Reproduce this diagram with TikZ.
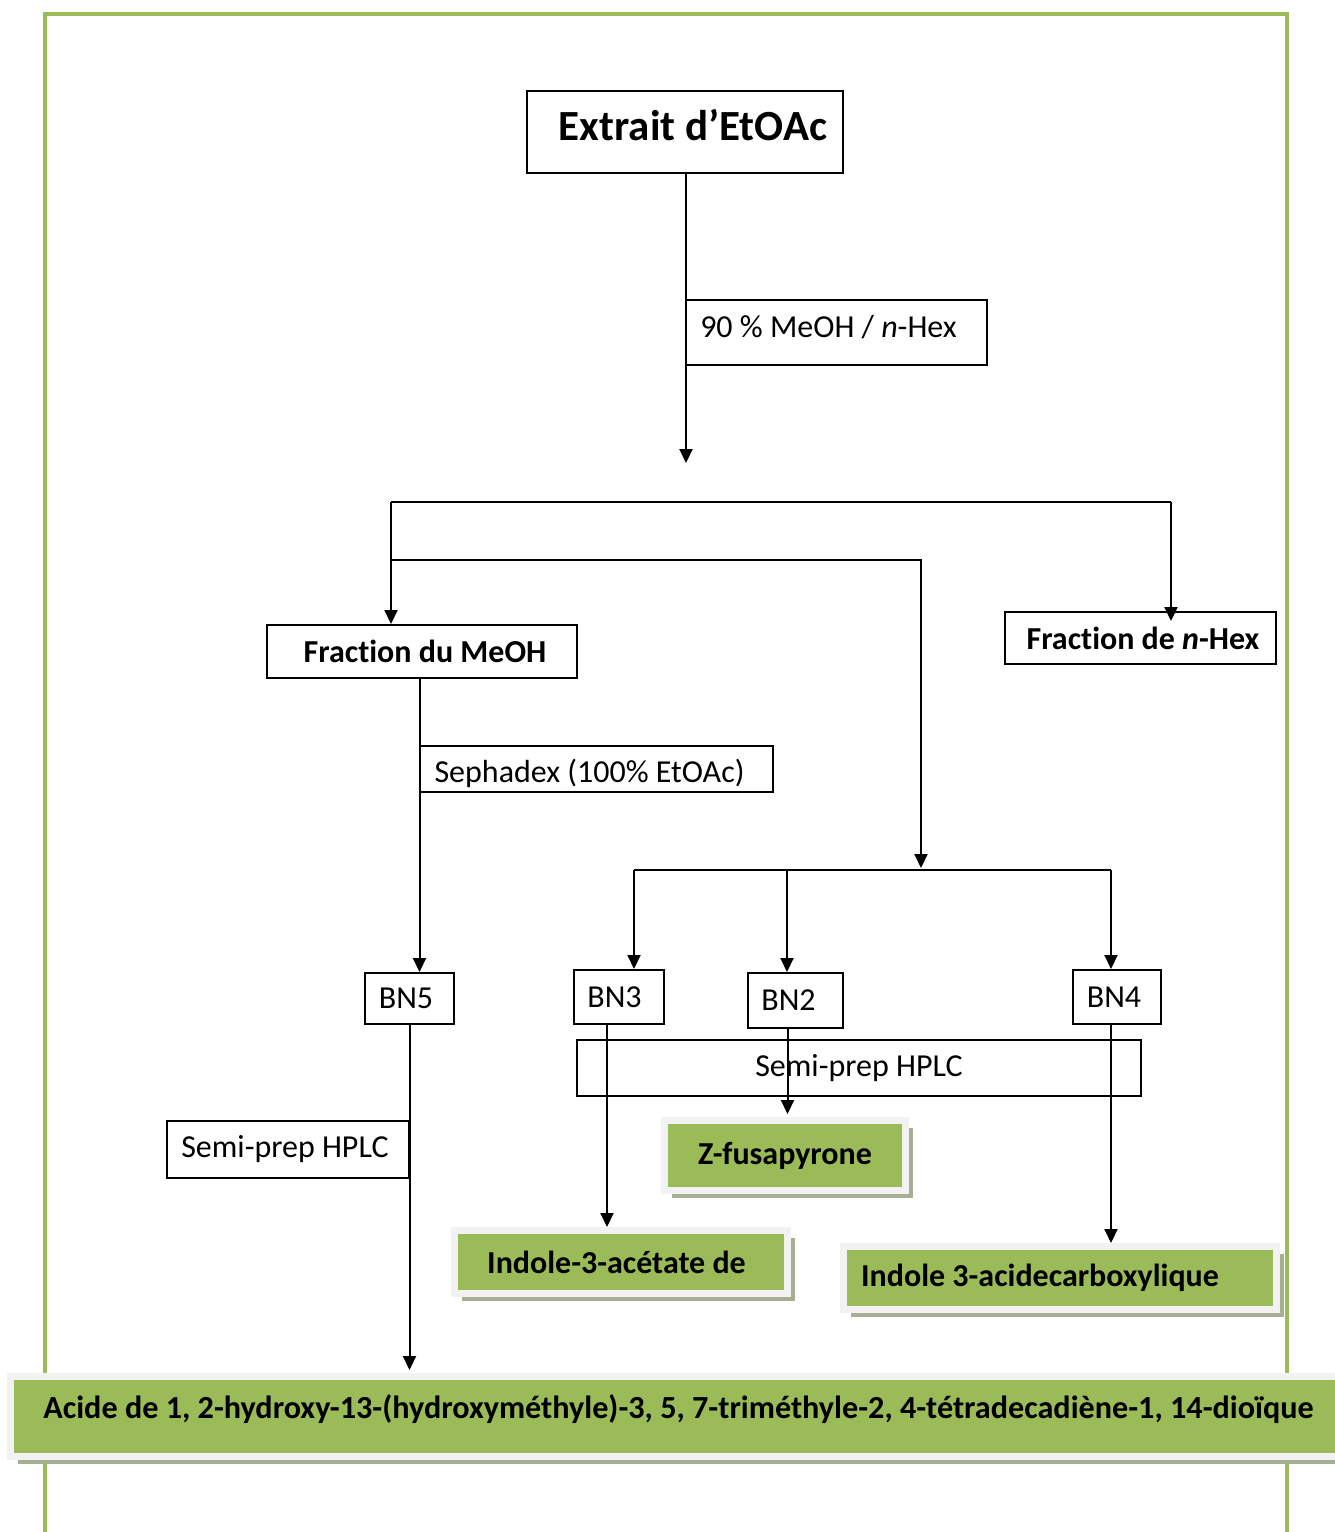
\documentclass[tikz,border=0pt]{standalone}
\usepackage{fontspec}
\setmainfont{Carlito}[Ligatures=NoCommon]
\usetikzlibrary{arrows.meta,shadows}
\definecolor{leafgreen}{HTML}{9BBB59}
\definecolor{framegrey}{HTML}{F2F2F2}
\definecolor{shadegreen}{RGB}{165,175,145}
\tikzset{
  box/.style={draw, line width=2pt, inner sep=0pt, font=\fontsize{32}{38}\selectfont},
  boldbox/.style={box, font=\fontsize{32}{38}\selectfont\bfseries},
  result/.style={fill=leafgreen, draw=framegrey, line width=7pt, inner sep=0pt,
    font=\fontsize{32}{38}\selectfont\bfseries,
    general shadow={fill=shadegreen, shadow xshift=7.5pt, shadow yshift=-7.5pt}},
  link/.style={line width=2pt},
  arrow/.style={link, -{Triangle[length=14pt,width=13pt]}}
}
\begin{document}
\begin{tikzpicture}[x=1pt,y=-1pt]
  \useasboundingbox (0,0) rectangle (1335,1532);
  \draw[leafgreen, line width=4pt] (45,1532) -- (45,14) -- (1287,14) -- (1287,1532);

  \node[box, minimum width=316pt, minimum height=82pt, text height=30pt, text depth=13pt, font=\fontsize{43}{50}\selectfont\bfseries] (extrait) at (685,132) {\hspace*{16pt}Extrait d’EtOAc};
  \node[box, minimum width=301pt, minimum height=65pt, text height=23pt, text depth=14pt] (solvent) at (836.5,332.5) {90 \% MeOH / \textit{n}-Hex\hspace*{16pt}};
  \node[boldbox, minimum width=310pt, minimum height=53pt] (meoh) at (422,651.5) {\hspace*{6pt}Fraction du MeOH};
  \node[boldbox, minimum width=271pt, minimum height=52pt] (hex) at (1140.5,638) {\hspace*{5pt}Fraction de \textit{n}-Hex};
  \node[box, minimum width=353pt, minimum height=46pt, text height=34pt, text depth=7pt] (sephadex) at (596.5,769) {Sephadex (100\% EtOAc)\hspace*{14pt}};
  \node[box, minimum width=89pt, minimum height=51pt] (bn5) at (409.5,998.5) {BN5\hspace*{7pt}};
  \node[box, minimum width=90pt, minimum height=54pt] (bn3) at (619,997) {BN3\hspace*{9pt}};
  \node[box, minimum width=95pt, minimum height=55pt] (bn2) at (795.5,1000.5) {BN2\hspace*{14pt}};
  \node[box, minimum width=88pt, minimum height=54pt] (bn4) at (1117,997) {BN4\hspace*{6pt}};
  \node[box, minimum width=564pt, minimum height=56pt] (hplcR) at (859,1068) {Semi-prep HPLC};
  \node[box, minimum width=242pt, minimum height=57pt] (hplcL) at (288,1149.5) {Semi-prep HPLC\hspace*{6pt}};

  \node[result, minimum width=241pt, minimum height=70pt] (zfus) at (785,1155.5) {Z-fusapyrone};
  \node[result, minimum width=333pt, minimum height=63pt] (indA) at (621,1262) {Indole-3-acétate de\hspace*{9pt}};
  \node[result, minimum width=433pt, minimum height=63pt] (indB) at (1060,1278) {Indole 3-acidecarboxylique\hspace*{40pt}};
  \node[result, minimum width=1336pt, minimum height=80pt, text depth=20pt, font=\fontsize{32.2}{38}\selectfont\bfseries] (acide) at (678.5,1416.5) {Acide de 1, 2-hydroxy-13-(hydroxyméthyle)-3, 5, 7-triméthyle-2, 4-tétradecadiène-1, 14-dioïque};

  \coordinate (split) at (686,463);
  \coordinate (barL) at (391,502);
  \coordinate (barR) at (1171,502);
  \coordinate (bar2L) at (391,560);
  \coordinate (bar2R) at (921,560);
  \coordinate (split2) at (921,868);
  \coordinate (bar3L) at (634,870);
  \coordinate (bar3M) at (787,870);
  \coordinate (bar3R) at (1111,870);

  \draw[arrow] (extrait.south -| split) -- (split);
  \draw[link] (barL) -- (barR);
  \draw[arrow] (barL) -- (barL |- meoh.north);
  \draw[arrow] (barR) -- ([yshift=-10pt]barR |- hex.north);
  \draw[arrow] (bar2L) -- (bar2R) -- (split2);
  \draw[arrow] ([xshift=10pt]bn5.north |- meoh.south) -- ([xshift=10pt]bn5.north);
  \draw[link] (bar3L) -- (bar3R);
  \draw[arrow] (bar3L) -- (bar3L |- bn3.north);
  \draw[arrow] (bar3M) -- (bar3M |- bn2.north);
  \draw[arrow] (bar3R) -- (bar3R |- bn4.north);
  \draw[arrow] ([xshift=-12pt]bn3.south) -- ([xshift=-12pt]bn3.south |- indA.north);
  \draw[arrow] ([xshift=-8pt]bn2.south) -- ([xshift=-8pt,yshift=3pt]bn2.south |- zfus.north);
  \draw[arrow] ([xshift=-6pt]bn4.south) -- ([xshift=-6pt]bn4.south |- indB.north);
  \draw[arrow] (bn5.south) -- ([yshift=3pt]bn5.south |- acide.north);
\end{tikzpicture}
\end{document}
